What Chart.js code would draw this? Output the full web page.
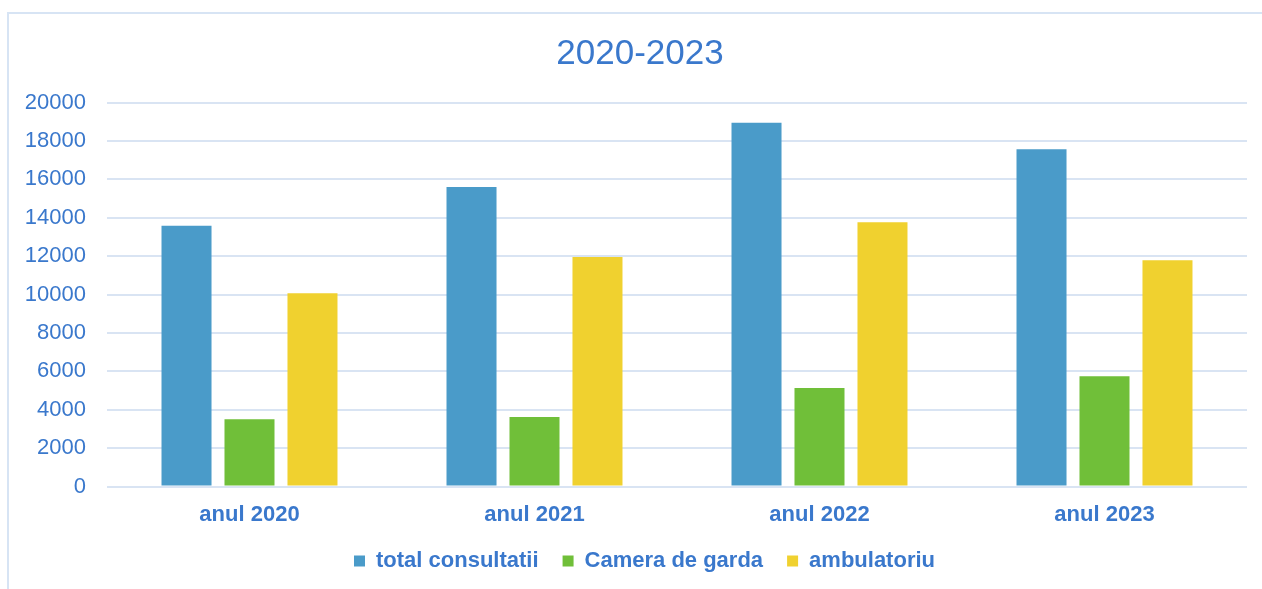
<!DOCTYPE html>
<html>
<head>
<meta charset="utf-8">
<script src="https://cdn.jsdelivr.net/npm/chart.js@4"></script>
<style>
  html, body { margin: 0; padding: 0; background: #fff; width: 1262px; height: 589px; overflow: hidden; }
  #frame { position: absolute; left: 7px; top: 12px; width: 1300px; height: 620px; border: 2px solid #d7e4f4; box-sizing: border-box; }
  #wrap { position: absolute; left: 0; top: 0; width: 1262px; height: 589px; }
</style>
</head>
<body>
<div id="frame"></div>
<div id="wrap"><canvas id="c" width="1262" height="589"></canvas></div>
<script>
const categories = ["anul 2020", "anul 2021", "anul 2022", "anul 2023"];
const seriesNames = ["total consultatii", "Camera de garda", "ambulatoriu"];
const totalConsultatii = [13580, 15600, 18950, 17560];
const cameraDeGarda = [3500, 3620, 5130, 5740];
const ambulatoriu = [10070, 11950, 13760, 11780];
const yTicks = [0, 2000, 4000, 6000, 8000, 10000, 12000, 14000, 16000, 18000, 20000];
const titleText = "2020-2023";

const textBlue = '#3a78cc';
const colors = ['#4a9bc9', '#70bf39', '#f0d12f'];
const FONT = '"Liberation Sans", Arial, sans-serif';

// shift title / legend horizontally so they are centred like the reference
const shiftBlocks = {
  id: 'shiftBlocks',
  afterLayout(chart) {
    if (chart.titleBlock) chart.titleBlock.left = 33;
    if (chart.legend) chart.legend.left = 42;
  }
};

new Chart(document.getElementById('c'), {
  type: 'bar',
  data: {
    labels: categories,
    datasets: [
      { label: seriesNames[0], data: totalConsultatii, backgroundColor: colors[0] },
      { label: seriesNames[1], data: cameraDeGarda, backgroundColor: colors[1] },
      { label: seriesNames[2], data: ambulatoriu, backgroundColor: colors[2] }
    ]
  },
  plugins: [shiftBlocks],
  options: {
    responsive: false,
    animation: false,
    devicePixelRatio: 1,
    categoryPercentage: 0.663,
    barPercentage: 0.794,
    layout: { padding: { left: 0, right: 15, top: 0, bottom: 7 } },
    plugins: {
      title: {
        display: true,
        text: titleText,
        color: textBlue,
        font: { family: FONT, size: 35, weight: 'normal', lineHeight: 1.2 },
        padding: { top: 33, bottom: 27.5 }
      },
      legend: {
        position: 'bottom',
        labels: {
          color: textBlue,
          font: { family: FONT, size: 22, weight: 'bold' },
          boxWidth: 11,
          boxHeight: 11,
          padding: 24
        }
      },
      tooltip: { enabled: false }
    },
    scales: {
      x: {
        grid: { display: false, drawTicks: true, tickLength: 17.5 },
        border: { display: false },
        ticks: {
          color: textBlue,
          font: { family: FONT, size: 22, weight: 'bold', lineHeight: 1.0 },
          padding: 0,
          maxRotation: 0
        }
      },
      y: {
        min: 0,
        max: 20000,
        afterFit: s => { s.width = 107; },
        afterBuildTicks: s => { s.ticks = yTicks.map(v => ({ value: v })); },
        grid: { color: '#d9e4f3', lineWidth: 2, drawTicks: false },
        border: { display: false },
        ticks: {
          color: textBlue,
          font: { family: FONT, size: 22, weight: 'normal' },
          padding: 21,
          callback: v => String(v)
        }
      }
    }
  }
});
</script>
</body>
</html>
